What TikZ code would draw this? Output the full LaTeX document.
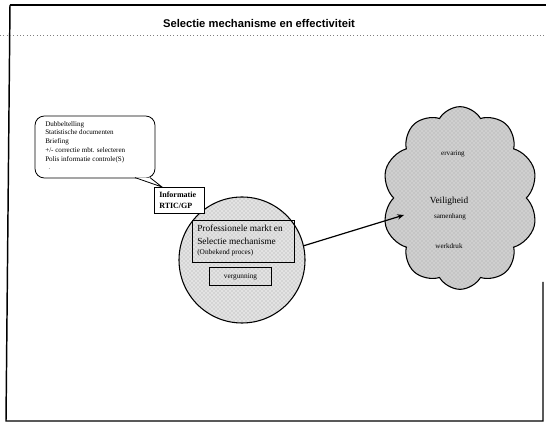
\documentclass[tikz,border=0pt]{standalone}
\usepackage{fontspec}
\setmainfont{Liberation Serif}
\setsansfont{Liberation Sans}
\usetikzlibrary{shapes.symbols,patterns,arrows.meta}
\begin{document}
\begin{tikzpicture}[x=0.75pt,y=-0.75pt,
  frameline/.style={line width=1.1pt},
  plainbox/.style={draw,line width=0.6pt,inner sep=0pt,fill=white},
  grainy/.style={preaction={fill=#1},pattern=crosshatch dots,pattern color=gray!70},
  innerbox/.style={draw,line width=0.65pt,inner sep=0pt},
  smalltxt/.style={font=\fontsize{5.3}{6.6}\selectfont,align=left,inner sep=0pt},
  boxtxt/.style={font=\fontsize{7}{9.5}\selectfont,align=left,inner sep=0pt}]
\useasboundingbox (0,0) rectangle (546,423);
% page frame
\draw[frameline] (10,5) -- (546,5);
\draw[frameline] (10,5) -- (6,421) -- (543,421) -- (543,282);
\draw[gray,dotted,line width=0.5pt] (0,35) -- (546,35);
\node (title) at (259,24) {\sffamily\bfseries\fontsize{8.4}{10}\selectfont Selectie mechanisme en effectiviteit};

% the market circle
\node[circle,draw,line width=0.8pt,minimum size=94.5pt,inner sep=0pt,grainy=gray!22] (market) at (242,260) {};
\node[innerbox,minimum width=76.5pt,minimum height=31.5pt] (proc) at (243,241) {};
\node[boxtxt,anchor=north west] (proctxt) at (197,225)
  {Professionele markt en\\Selectie mechanisme\\[-2pt]{\fontsize{5.5}{6}\selectfont(Onbekend proces)}};
\node[innerbox,minimum width=47pt,minimum height=14pt,
  font=\fontsize{5.5}{6}\selectfont] (licence) at (240.5,276.5) {vergunning};

% callout with its pointer
\node[plainbox,rounded corners=7pt,minimum width=90pt,minimum height=46.5pt] (callout) at (95,147) {};
\coordinate (tipa) at (135,177.6);
\coordinate (tipb) at (150,177.6);
\coordinate (tipend) at (162,187);
\fill[white] (tipa) -- (tipend) -- (tipb) -- cycle;
\draw[line width=0.6pt] (tipa) -- (tipend) -- (tipb);
\node[smalltxt,anchor=north west] (calltxt) at (45,121)
  {Dubbeltelling\\Statistische documenten\\Briefing\\+/- correctie mbt. selecteren\\Polis informatie controle(S)\\\hspace*{2pt}$\cdot$};
\node[plainbox,minimum width=37pt,minimum height=19.5pt] (info) at (179.5,200) {};
\node[smalltxt,font=\fontsize{6}{8}\selectfont\bfseries,anchor=west] (infotxt) at (159,200) {Informatie\\RTIC/GP};

% effects cloud
\node[cloud,draw,line width=0.8pt,cloud puffs=10,cloud puff arc=120,cloud ignores aspect,
  minimum width=117pt,minimum height=137pt,inner sep=0pt,grainy=gray!38] (effects) at (460,198) {};
\node[font=\fontsize{5.3}{6}\selectfont] (e1) at (453,154) {ervaring};
\node[font=\fontsize{7}{8}\selectfont] (e2) at (449,201) {Veiligheid};
\node[font=\fontsize{5.3}{6}\selectfont] (e3) at (450,217) {samenhang};
\node[font=\fontsize{5.3}{6}\selectfont] (e4) at (449,246) {werkdruk};
\coordinate (target) at (404,215);
\draw[-{Stealth[length=5pt,width=4pt]},line width=0.9pt] (market.13) -- (target);
\end{tikzpicture}
\end{document}
